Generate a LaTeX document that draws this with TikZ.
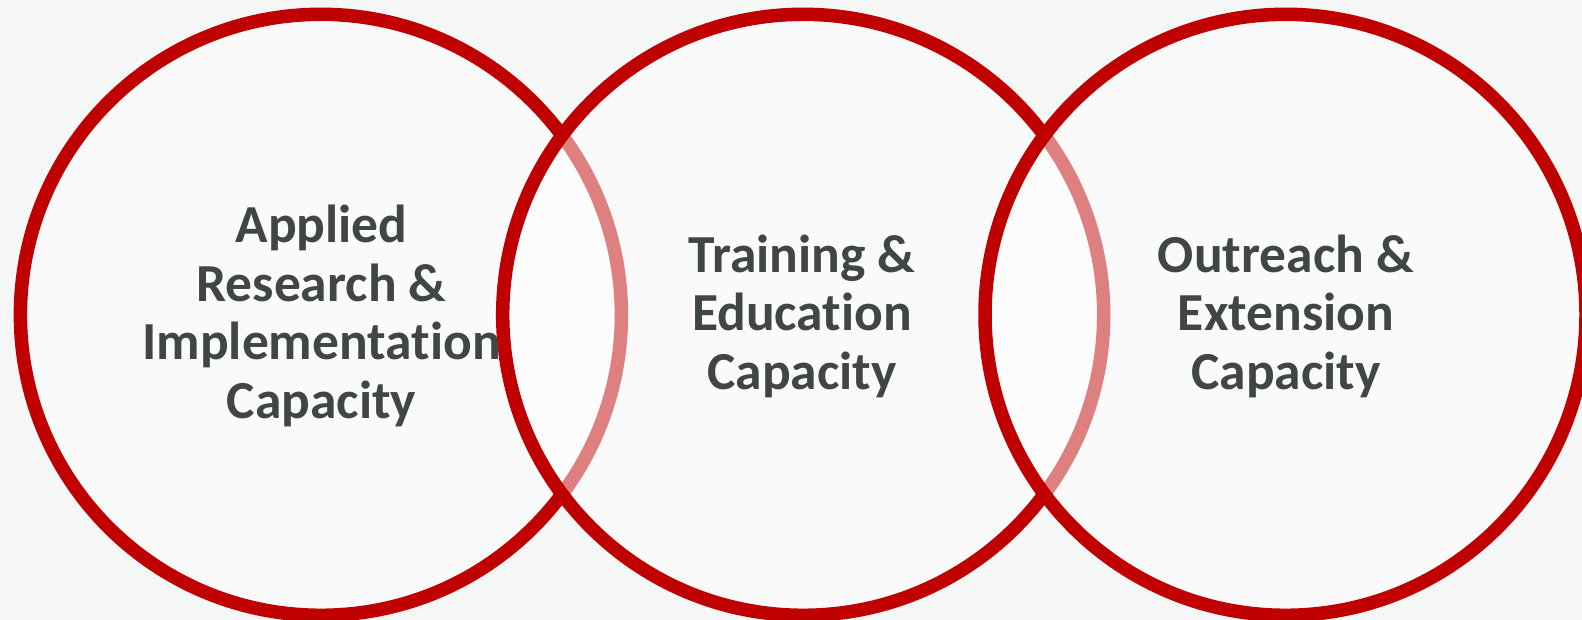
\documentclass[tikz,border=0pt]{standalone}
\usepackage{fontspec}
\setmainfont{Carlito}[Ligatures={NoCommon}]
\definecolor{bg}{HTML}{F5F6F6}
\definecolor{ring}{HTML}{C00000}
\definecolor{ink}{HTML}{404545}
\begin{document}
\begin{tikzpicture}[x=1pt,y=-1pt,
  ringshape/.style={circle, minimum size=601pt, inner sep=0pt, draw=ring,
    line width=13.5pt, fill=white, fill opacity=0.5, draw opacity=1},
  label/.style={align=center, text=ink, font=\fontsize{53.5}{58.5}\selectfont\bfseries}]
  \fill[bg] (0,0) rectangle (1582,620);
  \useasboundingbox (0,0) rectangle (1582,620);
  % three overlapping rings, each lightening the ones beneath it
  \node[ringshape] (c1) at (320.9,314.8) {};
  \node[ringshape] (c2) at (803.2,314.8) {};
  \node[ringshape] (c3) at (1285.5,314.8) {};
  % captions on top
  \node[label] (t1) at (321.5,316) {Applied\\Research \&\\Implementation\\Capacity};
  \node[label] (t2) at (802,316) {Training \&\\Education\\Capacity};
  \node[label] (t3) at (1286,316) {Outreach \&\\Extension\\Capacity};
\end{tikzpicture}
\end{document}
